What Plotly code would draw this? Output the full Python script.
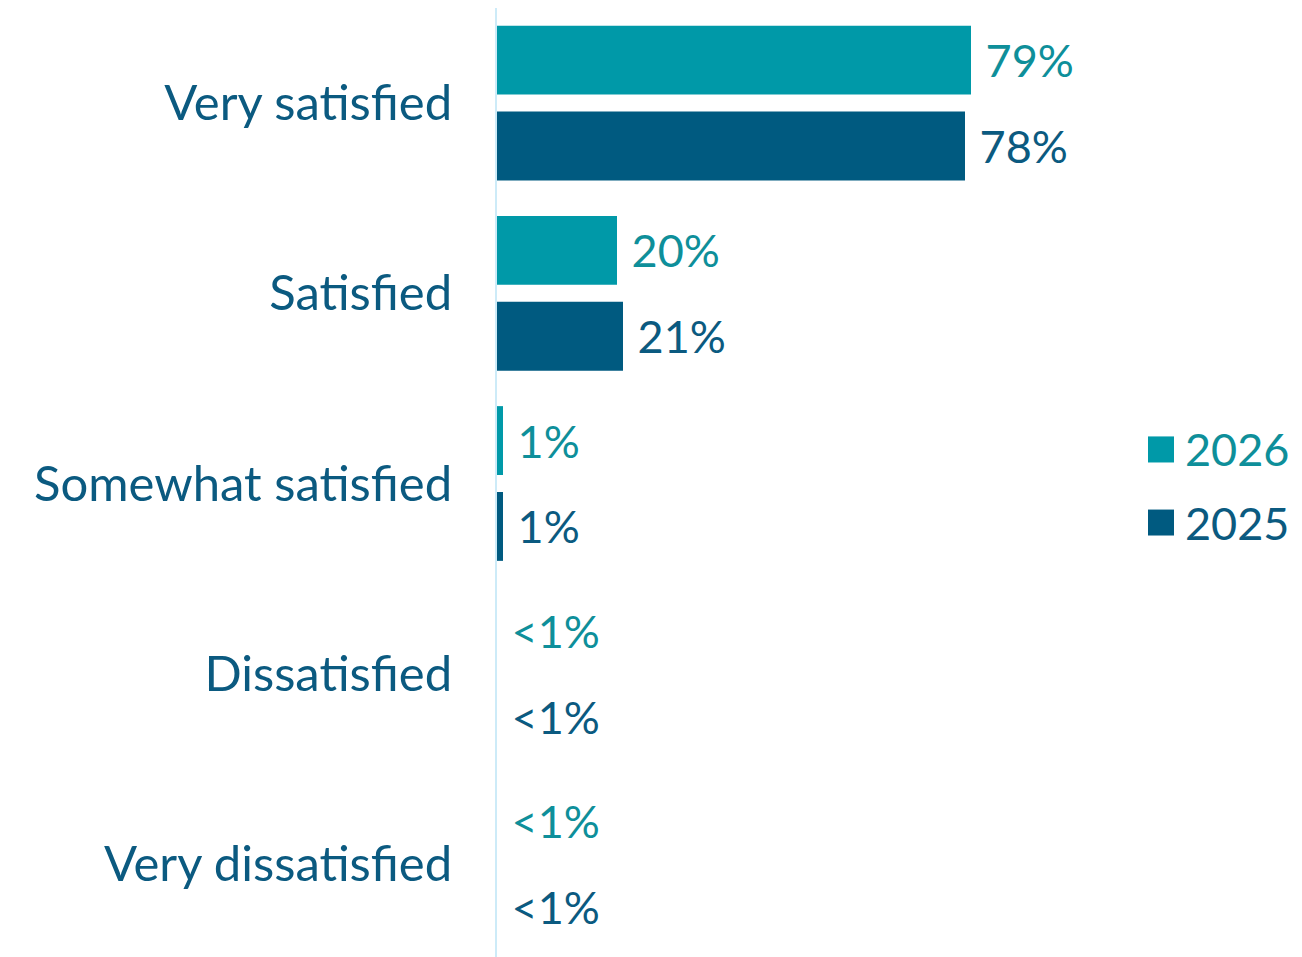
import plotly.graph_objects as go

# ── Data ───────────────────────────────────────────
categories = ["Very satisfied", "Satisfied", "Somewhat satisfied",
              "Dissatisfied", "Very dissatisfied"]
values_2026 = [79, 20, 1, 0, 0]
values_2025 = [78, 21, 1, 0, 0]
labels_2026 = ["79%", "20%", "1%", "<1%", "<1%"]
labels_2025 = ["78%", "21%", "1%", "<1%", "<1%"]
series_names = ["2026", "2025"]

TEAL = "#0099A8"
NAVY = "#005A80"
TEAL_TXT = "#0E8F9A"
NAVY_TXT = "#0B5A80"
FONT = "Lato"
PAD = "\u00a0"

fig = go.Figure()
for name, vals, labs, col, tcol in [
    (series_names[0], values_2026, labels_2026, TEAL, TEAL_TXT),
    (series_names[1], values_2025, labels_2025, NAVY, NAVY_TXT),
]:
    fig.add_trace(go.Bar(
        y=categories, x=vals, orientation="h", name=name,
        marker=dict(color=col, line=dict(width=0)),
        text=[PAD + t for t in labs], textposition="outside",
        textfont=dict(family=FONT, size=45, color=tcol),
        cliponaxis=False, showlegend=False, hoverinfo="skip",
    ))

# ── Legend drawn by hand (bigger swatches than plotly's legend allows) ──
legend_rows = [(series_names[0], TEAL, TEAL_TXT, 0.5221, 0.5495),
               (series_names[1], NAVY, NAVY_TXT, 0.4453, 0.4726)]
for name, col, tcol, y0, y1 in legend_rows:
    fig.add_shape(type="rect", xref="paper", yref="paper",
                  x0=1.0333, x1=1.0746, y0=y0, y1=y1,
                  fillcolor=col, line=dict(width=0))
    fig.add_annotation(xref="paper", yref="paper", x=1.089, y=(y0 + y1) / 2,
                       xanchor="left", yanchor="middle", showarrow=False,
                       text=name, font=dict(family=FONT, size=45, color=tcol))

# page body has an 8px margin, so the plot area is pulled up/left by that much
fig.update_layout(
    width=1302, height=957,
    margin=dict(l=489, r=183, t=0, b=6, autoexpand=False),
    paper_bgcolor="white", plot_bgcolor="white",
    barmode="group", bargap=0.097, bargroupgap=0.198,
    font=dict(family=FONT, color=NAVY_TXT),
    showlegend=False,
)
fig.update_xaxes(range=[0, 105], visible=False, showgrid=False,
                 zeroline=False, automargin=False)
fig.update_yaxes(
    autorange="reversed", showgrid=False, zeroline=False, automargin=False,
    showline=True, linecolor="#CDEBF8", linewidth=2,
    ticks="", ticklabelstandoff=33,
    tickfont=dict(family=FONT, size=49, color=NAVY_TXT),
)

fig.write_html("out.html")
